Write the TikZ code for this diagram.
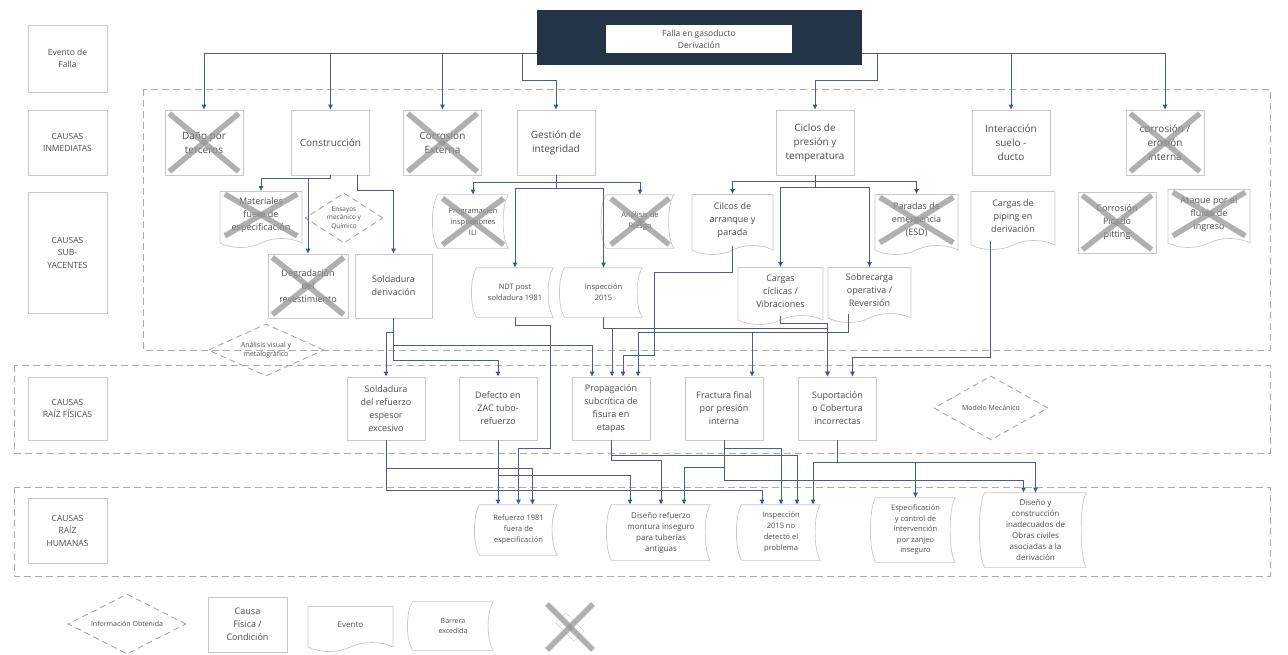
\documentclass[tikz,border=0pt]{standalone}
\usepackage{fontspec}
\setmainfont{Open Sans}
\usetikzlibrary{arrows.meta,calc,shapes.geometric,shapes.symbols}

\definecolor{navy}{RGB}{36,52,71}
\definecolor{boxgray}{RGB}{200,200,200}
\definecolor{txtgray}{RGB}{75,75,75}
\definecolor{lineblue}{RGB}{78,92,135}
\definecolor{tipblue}{RGB}{55,85,165}
\definecolor{crossgray}{RGB}{150,150,150}

\tikzset{
  caja/.style={draw=boxgray, line width=0.7pt, fill=white, minimum width=78pt, minimum height=64pt, inner sep=2pt, align=center, text=txtgray, font=\fontsize{9}{13}\selectfont},
  etiqueta/.style={caja, minimum width=79pt, font=\fontsize{8.5}{12.5}\selectfont},
  inmediata/.style={caja, minimum height=65pt, font=\fontsize{10}{14}\selectfont},
  fisica/.style={caja, minimum width=78pt, minimum height=63pt},
  doc/.style={caja, tape, tape bend top=none, tape bend height=9pt},
  barrera/.style={caja, draw=none, fill=none, font=\fontsize{7.5}{11}\selectfont,
    append after command={\pgfextra{\draw[draw=boxgray, line width=0.7pt] (\tikzlastnode.north west) .. controls +(-7,10) and +(-7,-10) .. (\tikzlastnode.south west) -- (\tikzlastnode.south east) .. controls +(-7,-10) and +(-7,10) .. (\tikzlastnode.north east) -- cycle;}}},
  cruz/.style={draw=crossgray, line width=5.5pt, opacity=0.75, shorten <=6pt, shorten >=6pt},
  rombo/.style={diamond, draw=gray!70, dash pattern=on 6pt off 4pt, line width=0.9pt, inner sep=0pt, align=center, text=txtgray, font=\fontsize{7}{9}\selectfont},
  zona/.style={draw=gray!65, dash pattern=on 7pt off 4pt, line width=0.8pt},
  flecha/.style={draw=lineblue, line width=0.8pt, -{Latex[length=5pt,width=5pt,color=tipblue]}},
}

\begin{document}
\begin{tikzpicture}[x=1pt,y=1pt,yscale=-1]
\useasboundingbox (0,0) rectangle (1288,654);

%Shape: zonas
\draw[zona] (143,89) rectangle (1270,350);
\draw[zona] (14,365) rectangle (1270,453);
\draw[zona] (14,487) rectangle (1270,576);

% Etiquetas de nivel
\node[etiqueta, minimum height=67pt] (ev) at (67.5,58.5) {Evento de\\Falla};
\node[etiqueta, minimum height=65pt] (inm) at (67.5,142.5) {CAUSAS\\INMEDIATAS};
\node[etiqueta, minimum height=121pt] (sub) at (67.5,252.5) {CAUSAS\\SUB-\\YACENTES};
\node[etiqueta, minimum height=63pt] (fis) at (67.5,408.5) {CAUSAS\\RAÍZ FÍSICAS};
\node[etiqueta, minimum height=65pt] (hum) at (67.5,530.5) {CAUSAS\\RAÍZ\\HUMANAS};

% Evento de falla
\node[fill=navy, minimum width=325pt, minimum height=55pt] (tope) at (699.5,37.5) {};
\node[fill=white, minimum width=186pt, minimum height=28pt, align=center, text=txtgray, font=\fontsize{8.5}{12}\selectfont] (falla) at (699,39) {Falla en gasoducto\\Derivación};

% Causas inmediatas
\node[inmediata] (danio) at (204,142.5) {Daño por\\terceros};
\node[inmediata] (constr) at (330.5,142.5) {Construcción};
\node[inmediata] (corrext) at (442.5,142.5) {Corrosión\\Externa};
\node[inmediata] (gestion) at (556,142.5) {Gestión de\\integridad};
\node[inmediata] (ciclos) at (815,142.5) {Ciclos de\\presión y\\temperatura};
\node[inmediata] (inter) at (1011,142.5) {Interacción\\suelo -\\ducto};
\node[inmediata] (corrint) at (1165,142.5) {corrosión /\\erosión\\interna};

% Causas subyacentes
\node[doc, minimum width=82pt, minimum height=56pt] (mat) at (261,215) {Materiales\\fuera de\\especificación};
\node[rombo, aspect=1.5, minimum width=78pt, minimum height=50pt, font=\fontsize{6.5}{8.5}\selectfont] (ensayos) at (344,218) {Ensayos\\mecánico y\\Químico};
\node[caja, minimum width=80pt] (degr) at (308,286) {Degradación\\del\\revestimiento};
\node[caja, minimum width=77pt] (solder) at (393.5,286) {Soldadura\\derivación};
\node[barrera, minimum width=70pt, minimum height=53pt] (progr) at (473,221.5) {Programación\\inspecciones\\ILI};
\node[barrera, minimum width=67pt, minimum height=53pt] (analisis) at (640,221.5) {Análisis de\\Riesgo};
\node[barrera, minimum width=76pt, minimum height=49pt] (ndt) at (515,292.5) {NDT post\\soldadura 1981};
\node[barrera, minimum width=77pt, minimum height=49pt] (insp) at (603.5,292.5) {Inspección\\2015};
\node[doc, minimum width=81pt, minimum height=60pt] (arranque) at (732.5,220) {Cilcos de\\arranque y\\parada};
\node[doc, minimum width=83pt, minimum height=60pt] (paradas) at (916.5,220) {Paradas de\\emergencia\\(ESD)};
\node[doc, minimum width=85pt, minimum height=57pt] (cargcic) at (780.5,291.5) {Cargas\\cíclicas /\\Vibraciones};
\node[doc, minimum width=83pt, minimum height=55pt] (sobrec) at (869.5,290.5) {Sobrecarga\\operativa /\\Reversión};
\node[doc, minimum width=84pt, minimum height=58pt] (piping) at (1013,216) {Cargas de\\piping en\\derivación};
\node[caja, minimum height=61pt] (pitting) at (1117,222.5) {Corrosión\\Picado\\pitting};
\node[doc, minimum width=82pt, minimum height=58pt] (ataque) at (1209,214) {Ataque por el\\fluido de\\ingreso};
\node[rombo, aspect=2.2, minimum width=116pt, minimum height=52pt] (visual) at (266,350) {Análisis visual y\\metalográfico};

% Causas raiz fisicas
\node[fisica] (solref) at (386,408.5) {Soldadura\\del refuerzo\\espesor\\excesivo};
\node[fisica] (zac) at (498,408.5) {Defecto en\\ZAC tubo-\\refuerzo};
\node[fisica] (prop) at (611,408.5) {Propagación\\subcrítica de\\fisura en\\etapas};
\node[fisica] (fract) at (724,408.5) {Fractura final\\por presión\\interna};
\node[fisica] (suport) at (837.5,408.5) {Suportación\\o Cobertura\\incorrectas};
\node[rombo, aspect=1.8, minimum width=114pt, minimum height=64pt] (modelo) at (991,408) {Modelo Mecánico};

% Causas raiz humanas
\node[barrera, minimum width=77pt, minimum height=50pt] (ref81) at (518.5,530) {Refuerzo 1981\\fuera de\\especificación};
\node[barrera, minimum width=98pt, minimum height=55pt, font=\fontsize{8}{11}\selectfont] (disref) at (661,532.5) {Diseño refuerzo\\montura inseguro\\para tuberías\\antiguas};
\node[barrera, minimum width=78pt, minimum height=55pt] (inspno) at (781,532.5) {Inspección\\2015 no\\detectó el\\problema};
\node[barrera, minimum width=79pt, minimum height=64pt, font=\fontsize{7.5}{10.5}\selectfont] (espec) at (915.5,530) {Especificación\\y control de\\intervención\\por zanjeo\\inseguro};
\node[barrera, minimum width=101pt, minimum height=74pt, font=\fontsize{8}{11}\selectfont] (disobr) at (1035.5,530) {Diseño y\\construcción\\inadecuados de\\Obras civiles\\asociadas a la\\derivación};

% Leyenda
\node[rombo, aspect=2, minimum width=118pt, minimum height=60pt] (leginfo) at (127,624) {Información Obtenida};
\node[caja, minimum width=79pt, minimum height=55pt] (legcausa) at (247.5,624.5) {Causa\\Física /\\Condición};
\node[doc, minimum width=85pt, minimum height=45pt, font=\fontsize{8}{11}\selectfont] (legevento) at (350.5,624.5) {Evento};
\node[barrera, minimum width=80pt, minimum height=48pt, font=\fontsize{7}{10}\selectfont] (legbarrera) at (453,626) {Barrera\\excedida};
\node[draw=boxgray, rotate=-45, minimum width=26pt, minimum height=14pt] (legxbox) at (570,627) {};
\node[minimum width=54pt, minimum height=54pt] (legx) at (570,627) {};

% Causas descartadas
\foreach \n in {danio,corrext,corrint,mat,degr,progr,analisis,paradas,pitting,ataque,legx}
  {\draw[cruz] (\n.north west) -- (\n.south east);
   \draw[cruz] (\n.south west) -- (\n.north east);}

% Falla -> causas inmediatas
\draw[flecha] ($(tope.south west)+(0,-12)$) -| (danio.north);
\draw[flecha] ($(tope.south west)+(0,-12)$) -| (constr.north);
\draw[flecha] ($(tope.south west)+(0,-12)$) -| (corrext.north);
\draw[flecha] ($(tope.south west)+(-14,-12)$) -- ++(0,27) -| (gestion.north);
\draw[flecha] ($(tope.south east)+(0,-12)$) -| (inter.north);
\draw[flecha] ($(tope.south east)+(0,-12)$) -| (corrint.north);
\draw[flecha] ($(tope.south east)+(15,-12)$) -- ++(0,27) -| (ciclos.north);

% Inmediatas -> subyacentes
\draw[flecha] (constr.south) -- ++(0,3) -| (mat.north);
\draw[flecha] (constr.south) -- ++(0,3) -| (degr.north);
\draw[flecha] ($(constr.south east)+(-12,0)$) -- ++(0,15) -| (solder.north);
\draw[flecha] (gestion.south) -- ++(0,7) -| (progr.north);
\draw[flecha] (gestion.south) -- ++(0,7) -| (analisis.north);
\draw[flecha] (gestion.south) -- ++(0,13) -| (ndt.north);
\draw[flecha] (gestion.south) -- ++(0,13) -| (insp.north);
\draw[flecha] (ciclos.south) -- ++(0,6) -| (arranque.north);
\draw[flecha] (ciclos.south) -- ++(0,6) -| (paradas.north);
\draw[flecha] (ciclos.south) -- ++(0,12) -| (cargcic.north);
\draw[flecha] (ciclos.south) -- ++(0,12) -| (sobrec.north);

% Subyacentes -> raiz fisicas
\draw[flecha] (solder.south) -- ++(0,14) -| (solref.north);
\draw[flecha] (solder.south) -- ++(0,27) -| ($(prop.north)+(-19,0)$);
\draw[flecha] (solder.south) -- ++(0,42) -| (zac.north);
\draw[flecha] (insp.south) -- ++(0,11) -| ($(prop.north)+(1,0)$);
\draw[flecha] (insp.south) -- ++(0,11) -| ($(suport.north)+(-10,0)$);
\draw[flecha] (cargcic.south) -- ++(0,8) -| ($(suport.north)+(-10,0)$);
\draw[flecha] (arranque.south) -- ++(0,27) -| ++(-78,83) -| ($(prop.north)+(12,0)$);
\draw[flecha] ($(sobrec.south)+(-21,0)$) -- ++(0,19) -| ($(prop.north)+(27,0)$);
\draw[flecha] ($(sobrec.south)+(-21,0)$) -- ++(0,19) -| ($(fract.north)+(28,0)$);
\draw[flecha] ($(piping.south)+(-23,0)$) -- ++(0,117) -| ($(suport.north)+(15,0)$);

% Raiz fisicas -> raiz humanas
\draw[flecha] (ndt.south) -- ++(0,8) -- ++(35,0) -- ++(0,123) -| (ref81.north);
\draw[flecha] (zac.south) -- ($(ref81.north)+(-20.5,0)$);
\draw[flecha] (solref.south) -- ++(0,28) -| ($(ref81.north)+(14,0)$);
\draw[flecha] (zac.south) -- ++(0,35) -| ($(disref.north)+(-31,0)$);
\draw[flecha] (prop.south) -- ++(0,20) -| (disref.north);
\draw[flecha] (fract.south) -- ++(0,27) -| ($(disref.north)+(23,0)$);
\draw[flecha] (solref.south) -- ++(0,50) -| ($(inspno.north)+(-19,0)$);
\draw[flecha] (fract.south) -- ++(0,8) -| (inspno.north);
\draw[flecha] (prop.south) -- ++(0,15) -| ($(inspno.north)+(16,0)$);
\draw[flecha] (suport.south) -- ++(0,22) -| ($(inspno.north)+(32,0)$);
\draw[flecha] (suport.south) -- ++(0,22) -| (espec.north);
\draw[flecha] (suport.south) -- ++(0,22) -| (disobr.north);
\draw[flecha] (fract.south) -- ++(0,40) -| ($(disobr.north)+(-12,0)$);

\end{tikzpicture}
\end{document}
